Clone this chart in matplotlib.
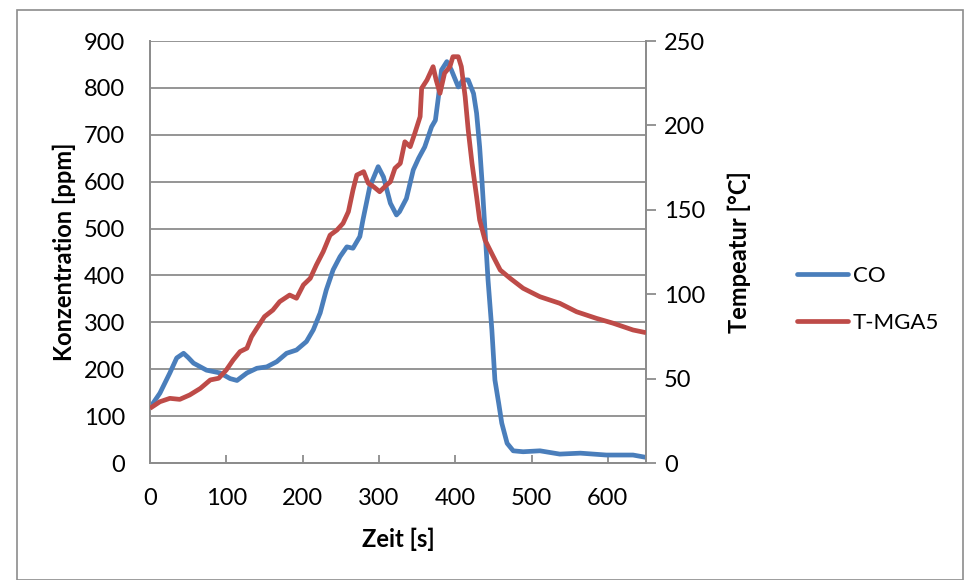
import matplotlib
matplotlib.use("Agg")
import matplotlib.pyplot as plt
from matplotlib.patches import Rectangle
from matplotlib.lines import Line2D

plt.rcParams['font.family'] = ['Lato', 'DejaVu Sans']

# CO concentration over time
co_time = [0, 13, 26, 35, 44, 50, 57, 74, 92, 105, 114, 127, 140, 153, 166, 179, 192, 205,
           214, 223, 231, 240, 249, 258, 266, 275, 279, 288, 299, 306, 315, 323, 327, 336,
           345, 352, 360, 369, 374, 378, 382, 389, 395, 404, 410, 417, 424, 428, 432, 435,
           439, 443, 448, 452, 457, 461, 468, 476, 489, 511, 537, 564, 598, 633, 650]
co_ppm = [118, 149, 192, 224, 234, 225, 213, 198, 192, 180, 176, 192, 202, 205, 216, 234, 241, 259,
          284, 320, 369, 412, 440, 461, 458, 483, 518, 589, 632, 610, 554, 529, 536, 564,
          625, 650, 674, 717, 731, 781, 838, 856, 838, 802, 817, 817, 788, 746, 674, 603,
          497, 390, 284, 177, 127, 85, 42, 26, 24, 26, 19, 21, 17, 17, 12]

# Temperature T-MGA5 over time
t_time = [0, 13, 26, 39, 52, 66, 79, 90, 100, 109, 118, 127, 133, 140, 150, 161, 170, 183, 192,
          201, 210, 218, 227, 236, 245, 253, 260, 266, 271, 280, 286, 293, 301, 310, 315, 321,
          328, 334, 341, 347, 354, 356, 363, 371, 375, 380, 386, 393, 397, 404, 408, 413, 417,
          422, 428, 432, 439, 450, 459, 472, 489, 511, 537, 559, 585, 607, 633, 650]
t_degc = [32.4, 36.3, 38.3, 37.7, 40.3, 44.2, 49.2, 50.2, 55.1, 61.0, 66.0, 68.0, 74.8, 79.8, 86.7,
          90.6, 95.6, 99.5, 97.6, 105.5, 109.4, 117.3, 125.2, 135.0, 138.0, 142.0, 148.9, 161.7,
          170.6, 172.6, 165.7, 163.7, 160.7, 164.7, 166.6, 174.6, 177.5, 190.3, 187.4, 195.3,
          205.2, 222.0, 226.9, 234.8, 226.9, 219.0, 230.9, 234.8, 240.7, 240.7, 234.8, 217.0,
          197.3, 177.5, 157.8, 144.0, 132.1, 122.2, 114.3, 109.4, 103.5, 98.5, 94.6, 89.6,
          85.7, 82.8, 78.8, 77.2]

x_ticks = [0, 100, 200, 300, 400, 500, 600]
left_ticks = [0, 100, 200, 300, 400, 500, 600, 700, 800, 900]
right_ticks = [0, 50, 100, 150, 200, 250]

BLUE = '#4A7EBB'
RED = '#BE4B48'
GRID = '#8C8C8C'
FS = 17
LEG_FS = 16
LW = 3.4

W, H = 964, 580
fig = plt.figure(figsize=(W / 100, H / 100), dpi=100)

# chart-area border
fig.patches.append(Rectangle((17 / W, 0), (W - 18) / W, 1 - 10 / H, transform=fig.transFigure,
                             fill=False, edgecolor='#8C8C8C', linewidth=1.2))

ax = fig.add_axes([150 / W, 1 - 463 / H, 496 / W, 422 / H])
ax2 = ax.twinx()

ax.plot(co_time, co_ppm, color=BLUE, linewidth=LW, solid_joinstyle='round', solid_capstyle='butt', zorder=3)
ax2.plot(t_time, t_degc, color=RED, linewidth=LW, solid_joinstyle='round', solid_capstyle='butt', zorder=3)

ax.set_xlim(0, 650)
ax.set_ylim(0, 900)
ax2.set_ylim(0, 250)

ax.set_xticks(x_ticks)
ax.set_yticks(left_ticks)
ax2.set_yticks(right_ticks)

ax.yaxis.grid(True, color=GRID, linewidth=1.3)
ax.set_axisbelow(True)

for a in (ax, ax2):
    for s in a.spines.values():
        s.set_color(GRID)
        s.set_linewidth(1.3)
    a.spines['top'].set_visible(False)

ax.tick_params(axis='y', length=0, pad=18, labelsize=FS)
ax.tick_params(axis='x', direction='in', length=6, width=1.3, color=GRID, pad=18, labelsize=FS)
ax2.tick_params(axis='y', direction='out', length=7, width=1.3, color=GRID, pad=6, labelsize=FS)

ax.set_ylabel('Konzentration [ppm]', fontsize=FS, fontweight='bold')
ax2.set_ylabel('Tempeatur [°C]', fontsize=FS, fontweight='bold', rotation=90)
ax.set_xlabel('Zeit [s]', fontsize=FS, fontweight='bold')
ax.yaxis.set_label_coords(-0.149, 0.5)
ax2.yaxis.set_label_coords(1.165, 0.5)
ax.xaxis.set_label_coords(0.5, -0.152)

handles = [Line2D([], [], color=BLUE, linewidth=LW, solid_capstyle='round'),
           Line2D([], [], color=RED, linewidth=LW, solid_capstyle='round')]
fig.legend(handles, ['CO', 'T-MGA5'], loc='center left', bbox_to_anchor=(797 / W, 1 - 299.5 / H),
           frameon=False, fontsize=LEG_FS, handlelength=2.3, handletextpad=0.2, labelspacing=1.2,
           borderaxespad=0, borderpad=0)

fig.savefig('out.png', dpi=100)
